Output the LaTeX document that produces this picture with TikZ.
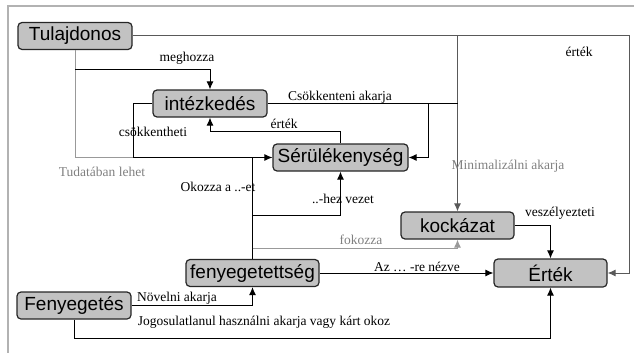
\documentclass[tikz,border=0pt]{standalone}
\usepackage{fontspec}
\setmainfont{Liberation Serif}
\newfontfamily\boxfont{Liberation Sans}
\usetikzlibrary{arrows.meta}

\tikzset{
  box/.style={shape=rectangle, rounded corners=4pt, draw=black!85, line width=1.2pt,
    fill=black!24, minimum width=114pt, minimum height=27pt, inner sep=2pt,
    font=\boxfont\fontsize{19}{21}\selectfont},
  lbl/.style={inner sep=0pt, font=\fontsize{13.5}{15}\selectfont},
  glbl/.style={lbl, text=black!50},
  arr/.style={-{Latex[length=8pt,width=7pt]}},
  dimline/.style={draw=black!65},
  paleline/.style={draw=black!40},
}

\begin{document}
\begin{tikzpicture}[x=1pt, y=-1pt, line width=1pt]
	\useasboundingbox (0,0) rectangle (634,353);
	\draw[black!30, line width=2pt] (8,353) -- (8,6) -- (634,6);

	\node[box] (tul) at (75, 36)     {Tulajdonos};
	\node[box] (int) at (210, 103.5) {intézkedés};
	\node[box, minimum width=135pt] (ser) at (340.5, 157.5) {Sérülékenység};
	\node[box, minimum width=113pt] (koc) at (457.5, 225.5) {kockázat};
	\node[box, minimum width=113pt, minimum height=28pt] (ert) at (550.5, 273) {Érték};
	\node[box, minimum width=133pt] (fgs) at (252.5, 273) {fenyegetettség};
	\node[box] (fny) at (74, 305.5)  {Fenyegetés};

	\coordinate (rt) at (629, 0);
	\coordinate (tj) at (75, 69);
	\coordinate (cl) at (133, 0);
	\coordinate (cb) at (428, 0);
	\coordinate (st) at (0, 131);
	\coordinate (hb) at (0, 215);
	\coordinate (fb) at (0, 248);
	\coordinate (bb) at (0, 338);

	% Tulajdonos
	\draw[paleline] (tul.south) |- (ser.west);
	\draw[dimline, arr] (tul.east) -- (tul.east -| rt) |- (ert.east);
	\draw[dimline, arr] (tul.east -| koc.north) -- (koc.north);
	\draw[arr] (tj) -| (int.north);

	% intezkedes
	\draw (int.east) -- (int.east -| koc.north);
	\draw[arr] (int.east -| cb) |- (ser.east);
	\draw[arr] (int.west) -- (int.west -| cl) |- (ser.west);
	\draw[arr] (ser.north) |- (st -| int.south) -- (int.south);

	% fenyegetettseg
	\draw (fgs.north) -- (fgs.north |- ser.west);
	\draw[arr] (fgs.north |- hb) -| (ser.south);
	\draw[paleline, arr] (fgs.north |- fb) -| (koc.south);
	\draw[arr] (fgs.east) -- (ert.west);
	\draw[arr] (koc.east) -| (ert.north);

	% Fenyegetes
	\draw[arr] (fny.east) -| (fgs.south);
	\draw[arr] (fny.south) |- (bb -| ert.south) -- (ert.south);

	% labels
	\node[lbl] (lmeg) at (187, 58)   {meghozza};
	\node[lbl] (lert) at (579, 52)   {érték};
	\node[lbl] (lcsa) at (340, 97)   {Csökkenteni akarja};
	\node[lbl] (lcsh) at (153, 132)  {csökkentheti};
	\node[lbl] (lerb) at (284, 124)  {érték};
	\node[glbl] (ltud) at (102, 172) {Tudatában lehet};
	\node[glbl] (lmin) at (508, 166) {Minimalizálni akarja};
	\node[lbl] (lokz) at (218, 187)  {Okozza a ..-et};
	\node[lbl] (lhez) at (343, 199)  {..-hez vezet};
	\node[glbl] (lfok) at (361, 240) {fokozza};
	\node[lbl] (lvsz) at (560, 213)  {veszélyezteti};
	\node[lbl] (laz) at (417, 267)   {Az … -re nézve};
	\node[lbl] (lnov) at (177, 298)  {Növelni akarja};
	\node[lbl] (ljog) at (264, 322)  {Jogosulatlanul használni akarja vagy kárt okoz};
\end{tikzpicture}
\end{document}
